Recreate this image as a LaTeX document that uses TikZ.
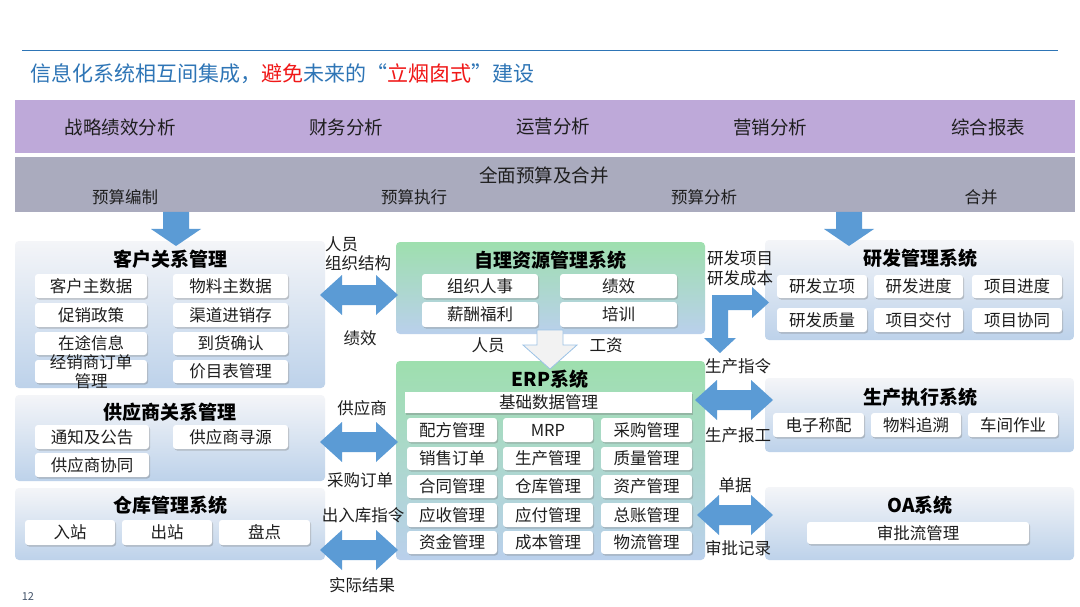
\documentclass[tikz,border=0pt]{standalone}
\usepackage{fontspec}
\setmainfont{Noto Sans CJK SC}
\usetikzlibrary{shadows}
\definecolor{titleblue}{HTML}{2E75B6}
\definecolor{titlered}{HTML}{F01818}
\definecolor{purplebar}{HTML}{BEA9D9}
\definecolor{graybar}{HTML}{AAABBE}
\definecolor{arrowblue}{HTML}{5B9BD5}
\definecolor{pnltop}{HTML}{F4F5F8}
\definecolor{pnlbot}{HTML}{BDD2EA}
\definecolor{grntop}{HTML}{9EDFAE}
\definecolor{grnbot}{HTML}{BAD0EC}
\definecolor{txt}{HTML}{1E1E1E}
\definecolor{pagenum}{HTML}{44546A}
\definecolor{hollowfill}{HTML}{F2F2F2}
\definecolor{hollowline}{HTML}{9DC3E6}
\newcommand\panelbox[6]{\node[#1, minimum width={#4-#2}, minimum height={#5-#3}, inner sep=0pt] (#6) at ({(#2+#4)/2},{(#3+#5)/2}) {};}
\newcommand\subnode[6]{\node[sub, minimum width={#4-#2}, minimum height={#5-#3}] (#1) at ({(#2+#4)/2},{(#3+#5)/2}) {#6};}
\newcommand\hdarrow[3]{\fill[arrowblue] (#1,#3) -- (#1+22,#3-20) -- (#1+22,#3-10) -- (#2-22,#3-10) -- (#2-22,#3-20) -- (#2,#3) -- (#2-22,#3+20) -- (#2-22,#3+10) -- (#1+22,#3+10) -- (#1+22,#3+20) -- cycle;}
\newcommand\vdarrow[3]{\fill[arrowblue] (#1-13,#2) -- (#1+13,#2) -- (#1+13,#3-17) -- (#1+25,#3-17) -- (#1,#3) -- (#1-25,#3-17) -- (#1-13,#3-17) -- cycle;}
\begin{document}
\begin{tikzpicture}[x=1pt,y=-1pt,
  panel/.style={rounded corners=4pt, top color=pnltop, bottom color=pnlbot, draw=none},
  gpanel/.style={rounded corners=4pt, top color=grntop, bottom color=grnbot, draw=none},
  sub/.style={fill=white, rounded corners=3pt, inner sep=0pt, font=\fontsize{16.5}{19}\selectfont, text=txt,
    drop shadow={opacity=0.35, shadow xshift=1.2pt, shadow yshift=-1.5pt, fill=black!55}},
  ptitle/.style={font=\fontsize{19}{22}\selectfont\bfseries, text=black, inner sep=0pt},
  lbl/.style={font=\fontsize{16.5}{19}\selectfont, text=txt, inner sep=0pt},
  barlbl/.style={font=\fontsize{18.5}{22}\selectfont, text=txt, inner sep=0pt},
  bar2lbl/.style={font=\fontsize{16.5}{19}\selectfont, text=txt, inner sep=0pt}]
\useasboundingbox (0,0) rectangle (1080,607);
\fill[white] (0,0) rectangle (1080,607);

% title
\draw[titleblue, line width=0.8pt] (22,50) -- (1058,50);
\node[anchor=west, inner sep=0pt, font=\fontsize{21}{25}\selectfont, text=titleblue] (title) at (30,74)
  {信息化系统相互间集成，\textcolor{titlered}{避免}未来的“\textcolor{titlered}{立烟囱式}”建设};

% bars
\node[fill=purplebar, minimum width=1060, minimum height=53, inner sep=0pt] (bar1) at (545,126.5) {};
\node[barlbl] (b11) at (120,127) {战略绩效分析};
\node[barlbl] (b12) at (346,127) {财务分析};
\node[barlbl] (b13) at (553,127) {运营分析};
\node[barlbl] (b14) at (770,127) {营销分析};
\node[barlbl] (b15) at (988,127) {综合报表};
\node[fill=graybar, minimum width=1060, minimum height=55, inner sep=0pt] (bar2) at (545,184.5) {};
\node[barlbl] (b20) at (544,175) {全面预算及合并};
\node[bar2lbl] (b21) at (125,197) {预算编制};
\node[bar2lbl] (b22) at (414,197) {预算执行};
\node[bar2lbl] (b23) at (704,197) {预算分析};
\node[bar2lbl] (b24) at (981,197) {合并};

% panels
\panelbox{panel}{15}{241}{325}{388}{crm}
\panelbox{panel}{15}{395}{325}{481}{srm}
\panelbox{panel}{15}{488}{325}{560}{wms}
\panelbox{gpanel}{396}{242}{705}{334}{hr}
\panelbox{gpanel}{396}{361}{705}{560}{erp}
\panelbox{panel}{765}{240}{1074}{340}{rd}
\panelbox{panel}{765}{378}{1074}{452}{mes}
\panelbox{panel}{765}{487}{1074}{560}{oa}

% down arrows
\vdarrow{176}{212}{246}
\vdarrow{849}{212}{246}

% panel titles
\node[ptitle] (tcrm) at (170,259) {客户关系管理};
\node[ptitle] (tsrm) at (170,412) {供应商关系管理};
\node[ptitle] (twms) at (170,505) {仓库管理系统};
\node[ptitle] (thr) at (550,260) {自理资源管理系统};
\node[ptitle] (terp) at (550,379) {ERP系统};
\node[ptitle] (trd) at (920,258) {研发管理系统};
\node[ptitle] (tmes) at (920,397) {生产执行系统};
\node[ptitle] (toa) at (920,505) {OA系统};

% CRM
\subnode{c1}{35}{274}{147}{298}{客户主数据}
\subnode{c2}{173}{274}{288}{298}{物料主数据}
\subnode{c3}{35}{303}{147}{327}{促销政策}
\subnode{c4}{173}{303}{288}{327}{渠道进销存}
\subnode{c5}{35}{332}{147}{355}{在途信息}
\subnode{c6}{173}{332}{288}{355}{到货确认}
\subnode{c7}{35}{360}{147}{383}{}
\node[lbl, align=center] (c7t) at (91,372) {经销商订单\\管理};
\subnode{c8}{173}{360}{288}{383}{价目表管理}

% SRM
\subnode{s1}{35}{425}{149}{449}{通知及公告}
\subnode{s2}{173}{425}{288}{449}{供应商寻源}
\subnode{s3}{35}{453}{149}{477}{供应商协同}

% WMS
\subnode{w1}{25}{520}{115}{545}{入站}
\subnode{w2}{122}{520}{212}{545}{出站}
\subnode{w3}{219}{520}{310}{545}{盘点}

% HR
\subnode{h1}{422}{274}{538}{298}{组织人事}
\subnode{h2}{560}{274}{677}{298}{绩效}
\subnode{h3}{422}{302}{538}{327}{薪酬福利}
\subnode{h4}{560}{302}{677}{327}{培训}

% ERP
\node[sub, rounded corners=0pt, minimum width=287, minimum height=21] (base) at (548.5,402.5) {基础数据管理};
\subnode{e11}{407}{418}{497}{442}{配方管理}
\subnode{e12}{503}{418}{593}{442}{MRP}
\subnode{e13}{601}{418}{692}{442}{采购管理}
\subnode{e21}{407}{447}{497}{470}{销售订单}
\subnode{e22}{503}{447}{593}{470}{生产管理}
\subnode{e23}{601}{447}{692}{470}{质量管理}
\subnode{e31}{407}{475}{497}{498}{合同管理}
\subnode{e32}{503}{475}{593}{498}{仓库管理}
\subnode{e33}{601}{475}{692}{498}{资产管理}
\subnode{e41}{407}{503}{497}{527}{应收管理}
\subnode{e42}{503}{503}{593}{527}{应付管理}
\subnode{e43}{601}{503}{692}{527}{总账管理}
\subnode{e51}{407}{531}{497}{554}{资金管理}
\subnode{e52}{503}{531}{593}{554}{成本管理}
\subnode{e53}{601}{531}{692}{554}{物流管理}

% R&D
\subnode{r1}{777}{275}{867}{298}{研发立项}
\subnode{r2}{874}{275}{963}{298}{研发进度}
\subnode{r3}{972}{275}{1062}{298}{项目进度}
\subnode{r4}{777}{308}{867}{332}{研发质量}
\subnode{r5}{874}{308}{963}{332}{项目交付}
\subnode{r6}{972}{308}{1062}{332}{项目协同}

% MES
\subnode{m1}{773}{413}{864}{437}{电子称配}
\subnode{m2}{871}{413}{961}{437}{物料追溯}
\subnode{m3}{968}{413}{1058}{437}{车间作业}

% OA
\subnode{o1}{807}{522}{1029}{544}{审批流管理}

% block arrows
\hdarrow{320}{398}{295}
\hdarrow{320}{398}{442}
\hdarrow{320}{398}{550}
\hdarrow{695}{773}{400}
\hdarrow{697}{773}{515}
\fill[arrowblue] (712,295) -- (752,295) -- (752,287) -- (769,302.5) -- (752,318) -- (752,310) -- (728,310) -- (728,338) -- (736,338) -- (720,353) -- (704,338) -- (712,338) -- cycle;
\draw[hollowline, fill=hollowfill, line width=0.8pt] (537,330) -- (563,330) -- (563,345) -- (577,345) -- (550,369) -- (523,345) -- (537,345) -- cycle;

% labels
\node[lbl, anchor=west] (l1) at (325,244) {人员};
\node[lbl, anchor=west] (l2) at (325,263) {组织结构};
\node[lbl] (l3) at (360,338) {绩效};
\node[lbl] (l4) at (488,345) {人员};
\node[lbl] (l5) at (606,345) {工资};
\node[lbl] (l6) at (362,408) {供应商};
\node[lbl] (l7) at (360,480) {采购订单};
\node[lbl] (l8) at (363,515) {出入库指令};
\node[lbl] (l9) at (362,585) {实际结果};
\node[lbl, anchor=west] (l10) at (707,258) {研发项目};
\node[lbl, anchor=west] (l11) at (707,278) {研发成本};
\node[lbl] (l12) at (738,366) {生产指令};
\node[lbl] (l13) at (738,435) {生产报工};
\node[lbl] (l14) at (735,485) {单据};
\node[lbl] (l15) at (738,548) {审批记录};

\node[inner sep=0pt, font=\fontsize{11}{13}\selectfont, text=pagenum] (pg) at (28,597) {12};
\end{tikzpicture}
\end{document}
